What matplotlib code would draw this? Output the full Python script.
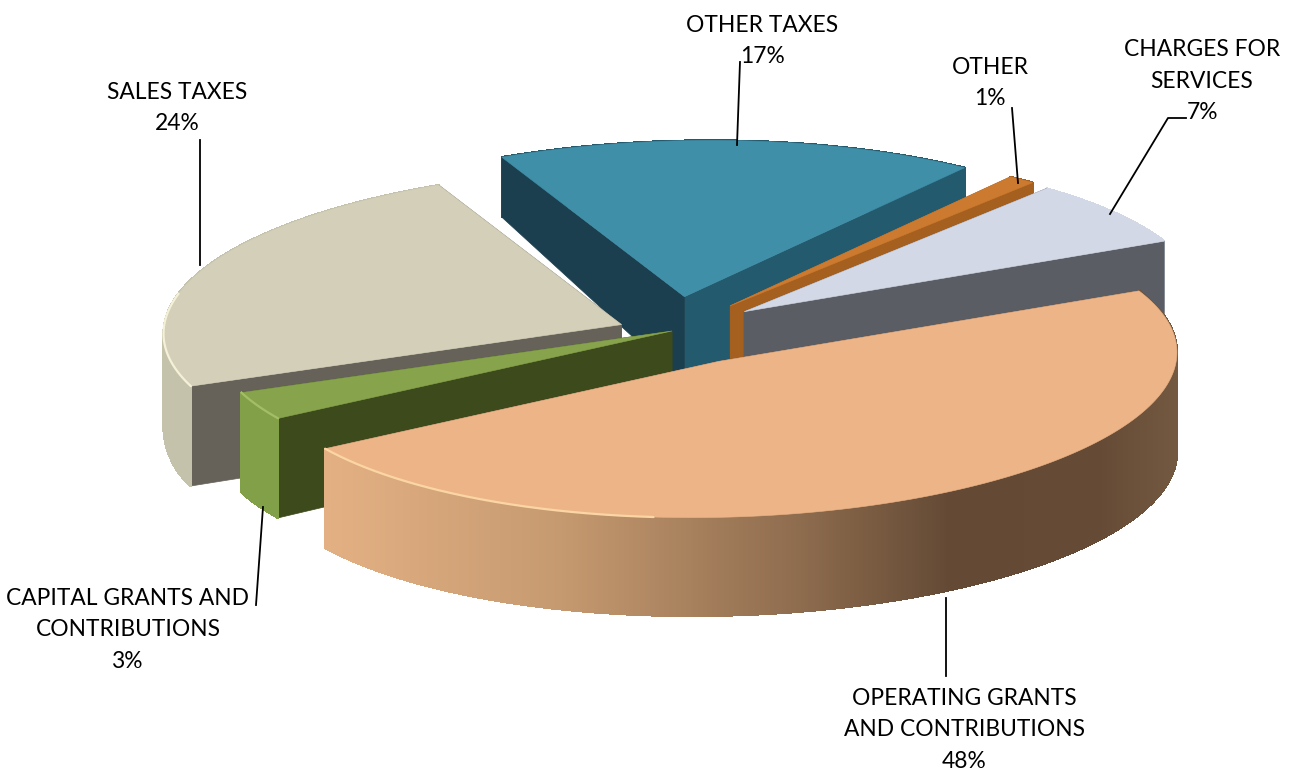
import numpy as np
import matplotlib
matplotlib.use('Agg')
import matplotlib.pyplot as plt
from matplotlib.collections import PolyCollection
from matplotlib.colors import to_rgb
from matplotlib.patches import Polygon

plt.rcParams['font.family'] = ['Lato', 'DejaVu Sans']

# parts du camembert, dans le sens trigo a partir de CHARGES FOR SERVICES
names = ['CHARGES FOR\nSERVICES', 'OTHER', 'OTHER TAXES', 'SALES TAXES',
         'CAPITAL GRANTS AND\nCONTRIBUTIONS', 'OPERATING GRANTS\nAND CONTRIBUTIONS']
percents = [7, 1, 17, 24, 3, 48]
explode = [0.195, 0.20, 0.22, 0.12, 0.0, 0.225]
top_colors = ['#D2D8E6', '#CC7A2F', '#408FA8', '#D3CFB8', '#87A44D', '#ECB487']
side_colors = ['#D2D8E6', '#A5601F', '#245A6E', '#C5C2AC', '#82A048', '#C69A70']
start_face = ['#5A5D63', '#A5601F', '#245A6E', '#66625A', '#3C4A1C', '#6A4B35']
end_face = ['#5A5D63', '#A5601F', '#1B3F4E', '#66625A', '#3C4A1C', '#6A4B35']
rim_colors = [None, None, None, '#F4F1D8', '#A4BE66', '#FBD6A4']
draw_order = [2, 1, 0, 3, 4, 5]

# position des etiquettes et des traits de rappel
label_pos = [(1202, 81), (990, 83), (762, 41), (177, 108), (128, 630), (964, 730)]
leaders = [[(1186, 118), (1168, 118), (1110, 214)],
           [(1012, 108), (1018, 183)],
           [(740, 62), (737, 145)],
           [(200, 140), (200, 265)],
           [(256, 605), (263, 507)],
           [(946, 598), (946, 676)]]

START = 23.5
CX, CY, RX, RY = 672, 331, 458, 156
SHEAR = 9


def project(X, Y, z=0.0):
    depth = np.interp(Y, [-1.4, -0.2, 1.3], [98, 100, 55])
    return CX + RX * X, CY - RY * Y - SHEAR * X + depth * z


fig = plt.figure(figsize=(12.94, 7.72), dpi=100)
ax = fig.add_axes([0, 0, 1, 1])
ax.set_xlim(0, 1294)
ax.set_ylim(772, 0)
ax.axis('off')

edges = START + np.concatenate([[0], np.cumsum(percents)]) * 3.6


def side_shade(i, xs):
    if i != 5:
        base = np.array(to_rgb(side_colors[i]))
        return [base for x in xs]
    stops = [328, 560, 800, 950, 1100, 1183]
    cols = np.array([to_rgb(c) for c in ['#E3B083', '#C69A70', '#8E6C4E', '#644A35', '#654A35', '#755A42']])
    return np.column_stack([np.interp(xs, stops, cols[:, j]) for j in range(3)])


def draw_wall(i, t, ox, oy, zorder):
    if len(t) < 2:
        return
    tx, ty = project(ox + np.cos(t), oy + np.sin(t), 0)
    bx, by = project(ox + np.cos(t), oy + np.sin(t), 1)
    quads = [[(tx[j], ty[j]), (tx[j + 1], ty[j + 1]), (bx[j + 1], by[j + 1]), (bx[j], by[j])]
             for j in range(len(t) - 1)]
    shades = side_shade(i, (tx[:-1] + tx[1:]) / 2)
    ax.add_collection(PolyCollection(quads, facecolors=shades, edgecolors=shades, linewidths=1,
                                     antialiaseds=False, zorder=zorder))


for n, i in enumerate(draw_order):
    a0, a1 = np.radians(edges[i]), np.radians(edges[i + 1])
    mid = (a0 + a1) / 2
    ox, oy = explode[i] * np.cos(mid), explode[i] * np.sin(mid)
    t = np.linspace(a0, a1, max(int(percents[i] * 12), 16))
    tx, ty = project(ox + np.cos(t), oy + np.sin(t), 0)
    bx, by = project(ox + np.cos(t), oy + np.sin(t), 1)
    cx0, cy0 = project(ox, oy, 0)
    cx1, cy1 = project(ox, oy, 1)
    z = 2 + n * 5

    # paroi arriere, faces radiales, paroi avant, puis dessus
    draw_wall(i, t[np.sin(t) >= 0], ox, oy, z)
    ax.add_patch(Polygon([(cx0, cy0), (tx[0], ty[0]), (bx[0], by[0]), (cx1, cy1)],
                         fc=start_face[i], ec=start_face[i], lw=0.5, zorder=z + 1))
    ax.add_patch(Polygon([(cx0, cy0), (tx[-1], ty[-1]), (bx[-1], by[-1]), (cx1, cy1)],
                         fc=end_face[i], ec=end_face[i], lw=0.5, zorder=z + 1))
    draw_wall(i, t[np.sin(t) <= 0], ox, oy, z + 2)
    top = [(cx0, cy0)] + list(zip(tx, ty))
    ax.add_patch(Polygon(top, fc=top_colors[i], ec=top_colors[i], lw=0.4, zorder=z + 3))
    if rim_colors[i]:
        deg = np.degrees(t) % 360
        rim = (deg > 165) & (deg < 262)
        ax.plot(tx[rim], ty[rim], color=rim_colors[i], lw=1.6, zorder=z + 4, solid_capstyle='round')

for i in range(len(names)):
    ax.text(label_pos[i][0], label_pos[i][1], names[i] + '\n' + str(percents[i]) + '%',
            ha='center', va='center', fontsize=16.4, color='black', linespacing=1.63, zorder=60)
    xs = [p[0] for p in leaders[i]]
    ys = [p[1] for p in leaders[i]]
    ax.plot(xs, ys, color='black', lw=1.3, zorder=50)

fig.savefig('out.png', dpi=100)
